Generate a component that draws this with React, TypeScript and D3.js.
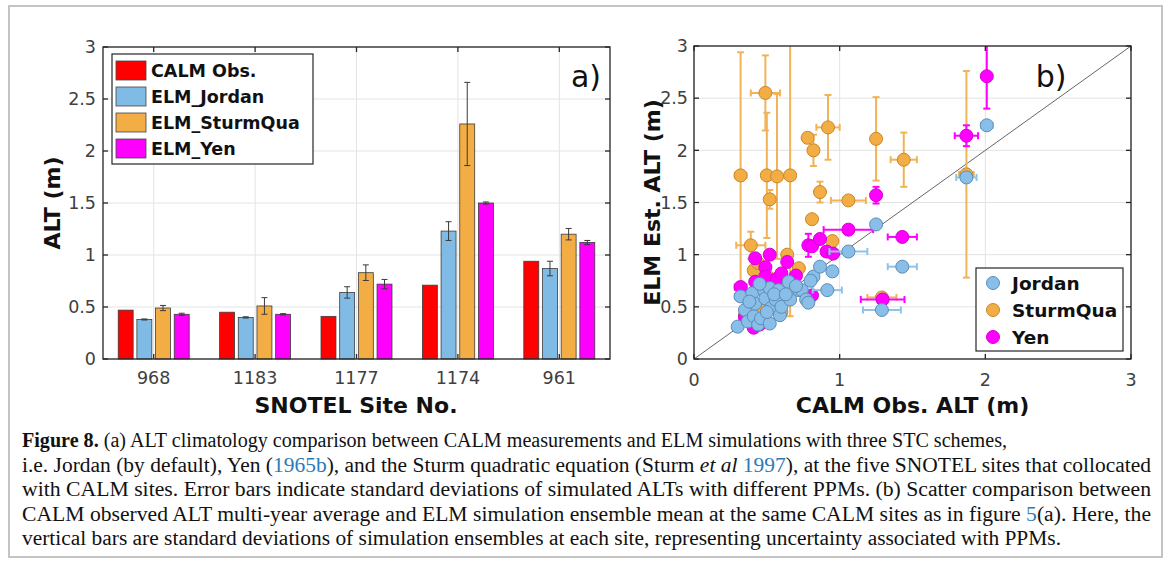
import React from 'react';
import * as d3 from 'd3';

// ---------- Panel (a) data ----------
const sites = ['968', '1183', '1177', '1174', '961'];
const seriesNames = ['CALM Obs.', 'ELM_Jordan', 'ELM_SturmQua', 'ELM_Yen'];
const calmObs = [0.47, 0.45, 0.41, 0.71, 0.94];
const elmJordan = [0.38, 0.40, 0.64, 1.23, 0.87];
const elmJordanSd = [0.005, 0.006, 0.055, 0.09, 0.07];
const elmSturm = [0.49, 0.51, 0.83, 2.26, 1.20];
const elmSturmSd = [0.025, 0.08, 0.075, 0.40, 0.055];
const elmYen = [0.43, 0.43, 0.72, 1.50, 1.12];
const elmYenSd = [0.01, 0.006, 0.045, 0.01, 0.02];
const barYTicks = [0, 0.5, 1, 1.5, 2, 2.5, 3];
const barColors = ['#ff0000', '#80bbe6', '#f2ad45', '#ff00ff'];

// ---------- Panel (b) data: [obsX, simY, xErr, yErr] ----------
const sturmPts: number[][] = [
  [0.32, 1.76, 0.04, 1.18], [0.49, 2.55, 0.1, 0.36], [0.50, 1.76, 0, 0.6], [0.57, 1.75, 0, 0.79],
  [0.66, 1.76, 0, 1.35], [0.52, 1.53, 0, 0.09], [0.78, 2.12, 0, 0], [0.82, 2.0, 0, 0.15],
  [0.92, 2.22, 0.08, 0.31], [1.25, 2.11, 0, 0.4], [1.44, 1.91, 0.09, 0.26], [0.865, 1.6, 0, 0.1],
  [1.06, 1.52, 0.12, 0], [0.81, 1.34, 0, 0.04], [0.95, 1.13, 0, 0.04], [0.39, 1.09, 0.1, 0.13],
  [0.64, 1.0, 0, 0.03], [0.72, 0.87, 0, 0.03], [0.41, 0.85, 0, 0.03], [1.29, 0.59, 0.1, 0],
  [1.87, 1.77, 0.05, 0.99], [0.35, 0.42, 0, 0.03], [0.45, 0.5, 0, 0], [0.55, 0.62, 0, 0],
  [0.6, 0.45, 0, 0], [0.5, 0.8, 0, 0.04], [0.44, 0.92, 0, 0],
];
const yenPts: number[][] = [
  [0.32, 0.69, 0.04, 0.03], [0.42, 0.965, 0.03, 0.03], [0.52, 1.0, 0, 0], [0.64, 0.93, 0, 0],
  [0.49, 0.88, 0, 0], [0.49, 0.79, 0, 0], [0.42, 0.74, 0, 0], [0.57, 0.77, 0, 0],
  [0.785, 1.09, 0, 0.11], [0.81, 1.08, 0, 0], [0.865, 1.15, 0, 0], [0.91, 1.03, 0, 0],
  [0.955, 1.01, 0, 0], [1.06, 1.24, 0.17, 0.03], [1.25, 1.57, 0, 0.08], [1.43, 1.17, 0.1, 0],
  [1.295, 0.57, 0.15, 0], [1.87, 2.14, 0.08, 0.1], [2.01, 2.71, 0, 0.31], [0.35, 0.4, 0, 0],
  [0.45, 0.33, 0, 0], [0.55, 0.55, 0, 0], [0.6, 0.82, 0, 0], [0.7, 0.8, 0, 0],
  [0.81, 0.61, 0, 0], [0.41, 0.3, 0, 0],
];
const jordanPts: number[][] = [
  [0.3, 0.31, 0, 0], [0.32, 0.6, 0.04, 0], [0.35, 0.47, 0, 0], [0.37, 0.36, 0, 0],
  [0.4, 0.63, 0, 0], [0.41, 0.41, 0, 0], [0.42, 0.53, 0, 0], [0.44, 0.33, 0, 0],
  [0.46, 0.39, 0, 0], [0.48, 0.66, 0, 0], [0.49, 0.58, 0, 0], [0.52, 0.68, 0, 0],
  [0.52, 0.34, 0, 0], [0.53, 0.49, 0, 0], [0.56, 0.57, 0, 0], [0.58, 0.66, 0, 0],
  [0.59, 0.42, 0, 0], [0.6, 0.5, 0, 0], [0.65, 0.74, 0, 0], [0.66, 0.57, 0, 0],
  [0.72, 0.66, 0, 0], [0.74, 0.66, 0, 0], [0.77, 0.57, 0, 0], [0.785, 0.54, 0, 0],
  [0.82, 0.79, 0, 0], [0.865, 0.885, 0, 0], [0.95, 0.84, 0, 0], [0.915, 0.66, 0.1, 0],
  [1.06, 1.03, 0.13, 0], [1.25, 1.29, 0, 0], [1.43, 0.885, 0.1, 0], [1.29, 0.47, 0.13, 0],
  [1.87, 1.74, 0.07, 0], [2.01, 2.24, 0.04, 0.04], [0.45, 0.72, 0, 0], [0.55, 0.62, 0, 0],
  [0.38, 0.55, 0, 0], [0.5, 0.45, 0, 0], [0.63, 0.62, 0, 0], [0.7, 0.7, 0, 0], [0.8, 0.75, 0, 0],
];
const scatterTicksX = [0, 1, 2, 3];
const scatterTicksY = [0, 0.5, 1, 1.5, 2, 2.5, 3];
const scatterLegend = ['Jordan', 'SturmQua', 'Yen'];

// ---------- Caption ----------
const captionLines: { t: string; s?: string }[][] = [
  [{ t: 'Figure 8.', s: 'b' }, { t: ' (a) ALT climatology comparison between CALM measurements and ELM simulations with three STC schemes,' }],
  [{ t: 'i.e. Jordan (by default), Yen (' }, { t: '1965b', s: 'l' }, { t: '), and the Sturm quadratic equation (Sturm ' }, { t: 'et al', s: 'i' }, { t: ' ' }, { t: '1997', s: 'l' }, { t: '), at the five SNOTEL sites that collocated' }],
  [{ t: 'with CALM sites. Error bars indicate standard deviations of simulated ALTs with different PPMs. (b) Scatter comparison between' }],
  [{ t: 'CALM observed ALT multi-year average and ELM simulation ensemble mean at the same CALM sites as in figure ' }, { t: '5', s: 'l' }, { t: '(a). Here, the' }],
  [{ t: 'vertical bars are standard deviations of simulation ensembles at each site, representing uncertainty associated with PPMs.' }],
];
const captionWidths = [985, 1129, 1129, 1129, 1039];

const SANS = 'DejaVu Sans, Lato, sans-serif';
const AX = '#262626';
const GRID = '#e3e3e3';
const TICKC = '#404040';

export default function App() {
  // Panel a scales
  const aL = 103, aR = 610, aT = 47, aB = 359;
  const x0 = d3.scaleBand<string>().domain(sites).range([aL, aR]).paddingInner(0.3).paddingOuter(0.15);
  const x1 = d3.scaleBand<number>().domain([0, 1, 2, 3]).range([0, x0.bandwidth()]).paddingInner(0.2);
  const ya = d3.scaleLinear().domain([0, 3]).range([aB, aT]);
  const barVals = [calmObs, elmJordan, elmSturm, elmYen];
  const barSd = [null, elmJordanSd, elmSturmSd, elmYenSd];

  // Panel b scales
  const bL = 694, bR = 1131, bT = 46, bB = 359;
  const xb = d3.scaleLinear().domain([0, 3]).range([bL, bR]);
  const yb = d3.scaleLinear().domain([0, 3]).range([bB, bT]);

  const scat = [
    { pts: sturmPts, fill: '#f2ad45', stroke: '#c8872c', err: '#f0b357' },
    { pts: yenPts, fill: '#ff00ff', stroke: '#d400d4', err: '#ff00ff' },
    { pts: jordanPts, fill: '#88bee8', stroke: '#5d8db5', err: '#8ec4ea' },
  ];
  const legendMarks = [scat[2], scat[0], scat[1]];

  const tick = 5;

  return (
    <svg width={1171} height={564} style={{ position: 'absolute', left: 0, top: 0, background: '#fff' }} xmlns="http://www.w3.org/2000/svg">
      <defs>
        <clipPath id="clipB"><rect x={bL} y={bT} width={bR - bL} height={bB - bT} /></clipPath>
      </defs>
      <rect x={9} y={6} width={1153} height={551} fill="none" stroke="#c4c4c4" strokeWidth={2} />

      {/* ============ Panel a ============ */}
      <g>
        {barYTicks.map((v) => (
          <line key={'gy' + v} x1={aL} x2={aR} y1={ya(v)} y2={ya(v)} stroke={GRID} strokeWidth={1} />
        ))}
        {sites.map((s) => {
          const cx = (x0(s) as number) + x0.bandwidth() / 2;
          return <line key={'gx' + s} x1={cx} x2={cx} y1={aT} y2={aB} stroke={GRID} strokeWidth={1} />;
        })}
        {sites.map((s, i) => (
          <g key={'grp' + s}>
            {barVals.map((arr, k) => {
              const bx = (x0(s) as number) + (x1(k) as number);
              const bw = x1.bandwidth();
              const v = arr[i];
              const sd = barSd[k];
              const cx = bx + bw / 2;
              return (
                <g key={k}>
                  <rect x={bx} y={ya(v)} width={bw} height={ya(0) - ya(v)} fill={barColors[k]} stroke="#3c3c3c" strokeWidth={0.8} />
                  {sd && (
                    <g stroke="#3a3a3a" strokeWidth={1}>
                      <line x1={cx} x2={cx} y1={ya(v + sd[i])} y2={ya(v - sd[i])} />
                      <line x1={cx - 3} x2={cx + 3} y1={ya(v + sd[i])} y2={ya(v + sd[i])} />
                      <line x1={cx - 3} x2={cx + 3} y1={ya(v - sd[i])} y2={ya(v - sd[i])} />
                    </g>
                  )}
                </g>
              );
            })}
          </g>
        ))}
        {/* axes box and ticks */}
        <rect x={aL} y={aT} width={aR - aL} height={aB - aT} fill="none" stroke={AX} strokeWidth={1.3} />
        {barYTicks.map((v) => (
          <g key={'ty' + v} stroke={AX} strokeWidth={1.3}>
            <line x1={aL} x2={aL + tick} y1={ya(v)} y2={ya(v)} />
            <line x1={aR} x2={aR - tick} y1={ya(v)} y2={ya(v)} />
          </g>
        ))}
        {sites.map((s) => {
          const cx = (x0(s) as number) + x0.bandwidth() / 2;
          return (
            <g key={'tx' + s} stroke={AX} strokeWidth={1.3}>
              <line x1={cx} x2={cx} y1={aB} y2={aB - tick} />
              <line x1={cx} x2={cx} y1={aT} y2={aT + tick} />
            </g>
          );
        })}
        {barYTicks.map((v) => (
          <text key={'ly' + v} x={96} y={ya(v)} dy="0.36em" textAnchor="end" fontFamily={SANS} fontSize={17.5} fill={TICKC}>{v}</text>
        ))}
        {sites.map((s) => (
          <text key={'lx' + s} x={(x0(s) as number) + x0.bandwidth() / 2} y={378} dy="0.36em" textAnchor="middle" fontFamily={SANS} fontSize={17.5} fill={TICKC}>{s}</text>
        ))}
        <text x={356} y={405} dy="0.36em" textAnchor="middle" fontFamily={SANS} fontWeight="bold" fontSize={22} fill="#111">SNOTEL Site No.</text>
        <text transform={`translate(52,${(aT + aB) / 2}) rotate(-90)`} dy="0.36em" textAnchor="middle" fontFamily={SANS} fontWeight="bold" fontSize={22} fill="#111">ALT (m)</text>
        <text x={586} y={76} dy="0.36em" textAnchor="middle" fontFamily={SANS} fontSize={30} fill="#111">a)</text>
        {/* legend */}
        <rect x={112} y={54} width={201} height={110} fill="#fff" stroke={AX} strokeWidth={1.2} />
        {seriesNames.map((n, k) => (
          <g key={'lg' + n}>
            <rect x={116} y={61 + k * 26} width={30} height={19} fill={barColors[k]} stroke="#444" strokeWidth={0.8} />
            <text x={151} y={71 + k * 26} dy="0.36em" fontFamily={SANS} fontWeight="bold" fontSize={17.5} fill="#111">{n}</text>
          </g>
        ))}
      </g>

      {/* ============ Panel b ============ */}
      <g>
        {scatterTicksY.map((v) => (
          <line key={'bgy' + v} x1={bL} x2={bR} y1={yb(v)} y2={yb(v)} stroke={GRID} strokeWidth={1} />
        ))}
        {scatterTicksX.map((v) => (
          <line key={'bgx' + v} x1={xb(v)} x2={xb(v)} y1={bT} y2={bB} stroke={GRID} strokeWidth={1} />
        ))}
        <g clipPath="url(#clipB)">
          <line x1={xb(0)} y1={yb(0)} x2={xb(3)} y2={yb(3)} stroke="#666" strokeWidth={1} />
          {scat.map((sr, si) => (
            <g key={'s' + si}>
              {sr.pts.map((p, i) => {
                const cx = xb(p[0]);
                const cy = yb(p[1]);
                return (
                  <g key={i} stroke={sr.err} strokeWidth={2}>
                    {p[3] > 0 && (
                      <>
                        <line x1={cx} x2={cx} y1={yb(p[1] + p[3])} y2={yb(p[1] - p[3])} />
                        <line x1={cx - 3.5} x2={cx + 3.5} y1={yb(p[1] + p[3])} y2={yb(p[1] + p[3])} />
                        <line x1={cx - 3.5} x2={cx + 3.5} y1={yb(p[1] - p[3])} y2={yb(p[1] - p[3])} />
                      </>
                    )}
                    {p[2] > 0 && (
                      <>
                        <line x1={xb(p[0] - p[2])} x2={xb(p[0] + p[2])} y1={cy} y2={cy} />
                        <line x1={xb(p[0] - p[2])} x2={xb(p[0] - p[2])} y1={cy - 3.5} y2={cy + 3.5} />
                        <line x1={xb(p[0] + p[2])} x2={xb(p[0] + p[2])} y1={cy - 3.5} y2={cy + 3.5} />
                      </>
                    )}
                  </g>
                );
              })}
              {sr.pts.map((p, i) => (
                <circle key={'c' + i} cx={xb(p[0])} cy={yb(p[1])} r={6.5} fill={sr.fill} stroke={sr.stroke} strokeWidth={1} />
              ))}
            </g>
          ))}
        </g>
        <rect x={bL} y={bT} width={bR - bL} height={bB - bT} fill="none" stroke={AX} strokeWidth={1.3} />
        {scatterTicksY.map((v) => (
          <g key={'bty' + v} stroke={AX} strokeWidth={1.3}>
            <line x1={bL} x2={bL + tick} y1={yb(v)} y2={yb(v)} />
            <line x1={bR} x2={bR - tick} y1={yb(v)} y2={yb(v)} />
          </g>
        ))}
        {scatterTicksX.map((v) => (
          <g key={'btx' + v} stroke={AX} strokeWidth={1.3}>
            <line x1={xb(v)} x2={xb(v)} y1={bB} y2={bB - tick} />
            <line x1={xb(v)} x2={xb(v)} y1={bT} y2={bT + tick} />
          </g>
        ))}
        {scatterTicksY.map((v) => (
          <text key={'bly' + v} x={688} y={yb(v)} dy="0.36em" textAnchor="end" fontFamily={SANS} fontSize={17.5} fill={TICKC}>{v}</text>
        ))}
        {scatterTicksX.map((v) => (
          <text key={'blx' + v} x={xb(v)} y={380} dy="0.36em" textAnchor="middle" fontFamily={SANS} fontSize={17.5} fill={TICKC}>{v}</text>
        ))}
        <text x={(bL + bR) / 2} y={405} dy="0.36em" textAnchor="middle" fontFamily={SANS} fontWeight="bold" fontSize={22} fill="#111">CALM Obs. ALT (m)</text>
        <text transform={`translate(652,${(bT + bB) / 2}) rotate(-90)`} dy="0.36em" textAnchor="middle" fontFamily={SANS} fontWeight="bold" fontSize={22} fill="#111">ELM Est. ALT (m)</text>
        <text x={1051} y={76} dy="0.36em" textAnchor="middle" fontFamily={SANS} fontSize={30} fill="#111">b)</text>
        <rect x={976} y={268} width={147} height={83} fill="#fff" stroke={AX} strokeWidth={1.2} />
        {scatterLegend.map((n, k) => (
          <g key={'blg' + n}>
            <circle cx={993} cy={283 + k * 27} r={6.5} fill={legendMarks[k].fill} stroke={legendMarks[k].stroke} strokeWidth={1} />
            <text x={1012} y={283 + k * 27} dy="0.36em" fontFamily={SANS} fontWeight="bold" fontSize={18.5} fill="#111">{n}</text>
          </g>
        ))}
      </g>

      {/* ============ Caption ============ */}
      {captionLines.map((line, li) => (
        <text key={'cap' + li} x={22} y={447 + li * 24.5} fontFamily="Liberation Serif, Times New Roman, serif" fontSize={20.5} fill="#111"
          textLength={captionWidths[li]} lengthAdjust="spacingAndGlyphs">
          {line.map((seg, si) => (
            <tspan key={si}
              fontWeight={seg.s === 'b' ? 'bold' : undefined}
              fontStyle={seg.s === 'i' ? 'italic' : undefined}
              fill={seg.s === 'l' ? '#2b7bb9' : undefined}>{seg.t}</tspan>
          ))}
        </text>
      ))}
    </svg>
  );
}
